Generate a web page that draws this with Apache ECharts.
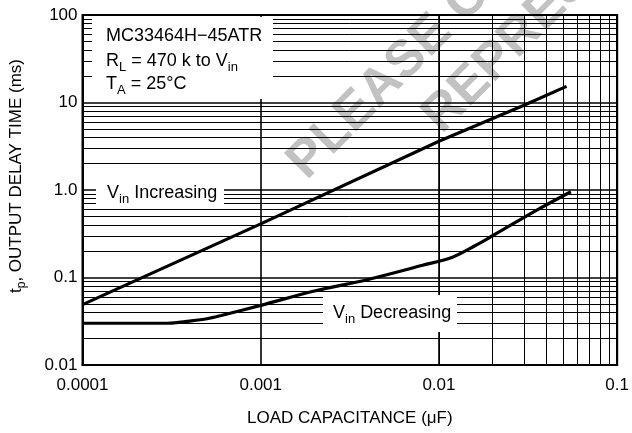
<!DOCTYPE html>
<html><head><meta charset="utf-8">
<script src="https://cdn.jsdelivr.net/npm/echarts@6/dist/echarts.min.js"></script>
<style>html,body{margin:0;padding:0;background:#fff}#c{width:632px;height:433px}</style>
</head><body><div id="c"></div>
<script>
// ---- data ----
const xTickLabels = ['0.0001', '0.001', '0.01', '0.1'];
const yTickLabels = ['0.01', '0.1', '1.0', '10', '100'];
const xDecades = [0.0001, 0.001, 0.01];
const yDecades = [0.01, 0.1, 1, 10];
const minorSteps = [2, 3, 4, 5, 6, 7, 8, 9];

// V_in Increasing
const incX = [0.0001, 0.001, 0.01, 0.03, 0.052];
const incY = [0.049, 0.41, 3.6, 9.3, 15.3];
// V_in Decreasing
const decX = [0.0001, 0.0003, 0.0004, 0.0005, 0.0006, 0.001, 0.002, 0.004, 0.008, 0.012, 0.016, 0.02, 0.036, 0.055];
const decY = [0.030, 0.030, 0.0318, 0.0338, 0.0368, 0.048, 0.070, 0.095, 0.137, 0.172, 0.232, 0.30, 0.60, 0.955];

const FONT = "'Liberation Sans', Arial, Helvetica, sans-serif";
const chart = echarts.init(document.getElementById('c'), null, {renderer: 'canvas'});

const xMinor = xDecades.flatMap(d => minorSteps.map(m => ({xAxis: +(d * m).toPrecision(6)})));
const yMinor = yDecades.flatMap(d => minorSteps.map(m => ({yAxis: +(d * m).toPrecision(6)})));

const subRich = {
  m: {fontFamily: FONT, fontSize: 18, lineHeight: 26, color: '#000'},
  s: {fontFamily: FONT, fontSize: 13, color: '#000', verticalAlign: 'bottom'}
};

function boxText(x, y, text) {
  return {type: 'text', x: x, y: y, z: 20, silent: true,
    style: {text: text, rich: subRich, x: 0, y: 0, textAlign: 'left', textVerticalAlign: 'middle', fill: '#000',
      font: '18px ' + FONT}};
}
function whiteRect(x, y, w, h) {
  return {type: 'rect', z: 15, silent: true, shape: {x: x, y: y, width: w, height: h}, style: {fill: '#fff'}};
}

const option = {
  backgroundColor: '#fff',
  animation: false,
  grid: {left: 81, top: 15, width: 541, height: 350, show: true, borderColor: '#000', borderWidth: 2, backgroundColor: 'transparent'},
  xAxis: {
    type: 'log', logBase: 10, min: 0.0001, max: 0.1, z: 3,
    axisLine: {show: true, lineStyle: {color: '#000', width: 2}},
    axisTick: {show: false},
    splitLine: {show: true, lineStyle: {color: '#000', width: 1.6}},
    axisLabel: {color: '#000', fontFamily: FONT, fontSize: 17, margin: 12,
      formatter: v => xTickLabels[Math.round(Math.log10(v) + 4)]},
    name: 'LOAD CAPACITANCE (\u03BCF)', nameLocation: 'middle', nameGap: 45,
    nameTextStyle: {color: '#000', fontFamily: FONT, fontSize: 17}
  },
  yAxis: {
    type: 'log', logBase: 10, min: 0.01, max: 100, z: 3,
    axisLine: {show: true, lineStyle: {color: '#000', width: 2}},
    axisTick: {show: false},
    splitLine: {show: true, lineStyle: {color: '#000', width: 1.6}},
    axisLabel: {color: '#000', fontFamily: FONT, fontSize: 17, margin: 5,
      formatter: v => yTickLabels[Math.round(Math.log10(v) + 2)]},
    name: '{a|t}{s|p}{a|, OUTPUT DELAY TIME (ms)}', nameLocation: 'middle', nameGap: 55,
    nameTextStyle: {color: '#000', fontFamily: FONT, fontSize: 17, padding: [0, 0, 0, 28],
      rich: {a: {fontFamily: FONT, fontSize: 17, lineHeight: 22, color: '#000'},
             s: {fontFamily: FONT, fontSize: 12, color: '#000', verticalAlign: 'bottom'}}}
  },
  series: [
    {type: 'line', name: 'grid', data: [], z: 3, silent: true,
      markLine: {silent: true, symbol: 'none', animation: false, label: {show: false},
        lineStyle: {color: '#000', width: 1, type: 'solid'},
        emphasis: {disabled: true},
        data: xMinor.concat(yMinor)}},
    {type: 'line', name: 'Vin Increasing', z: 5, showSymbol: false, symbol: 'none',
      lineStyle: {color: '#000', width: 3.2}, data: incX.map((x, i) => [x, incY[i]])},
    {type: 'line', name: 'Vin Decreasing', z: 5, showSymbol: false, symbol: 'none', smooth: 0.35,
      lineStyle: {color: '#000', width: 3.2}, data: decX.map((x, i) => [x, decY[i]])}
  ],
  graphic: [
    {type: 'text', x: 315, y: 189, rotation: Math.PI / 4, z: -5, silent: true,
      style: {text: 'PLEASE CONTACT', x: 0, y: 0, textAlign: 'left', textVerticalAlign: 'bottom',
        font: 'bold 52px ' + FONT, fill: '#c2c2c2'}},
    {type: 'text', x: 450, y: 143, rotation: Math.PI / 4, z: -5, silent: true,
      style: {text: 'REPRESENTATIVE', x: 0, y: 0, textAlign: 'left', textVerticalAlign: 'bottom',
        font: 'bold 52px ' + FONT, fill: '#c2c2c2'}},
    whiteRect(92, 17, 181, 82),
    whiteRect(96, 169, 128, 38),
    whiteRect(323, 295, 134, 37),
    boxText(106, 36, '{m|MC33464H\u221245ATR}'),
    boxText(106, 61, '{m|R}{s|L}{m| = 470 k to V}{s|in}'),
    boxText(106, 84, '{m|T}{s|A}{m| = 25\u00B0C}'),
    boxText(107, 193, '{m|V}{s|in}{m| Increasing}'),
    boxText(333, 313, '{m|V}{s|in}{m| Decreasing}')
  ]
};
chart.setOption(option);
</script></body></html>
